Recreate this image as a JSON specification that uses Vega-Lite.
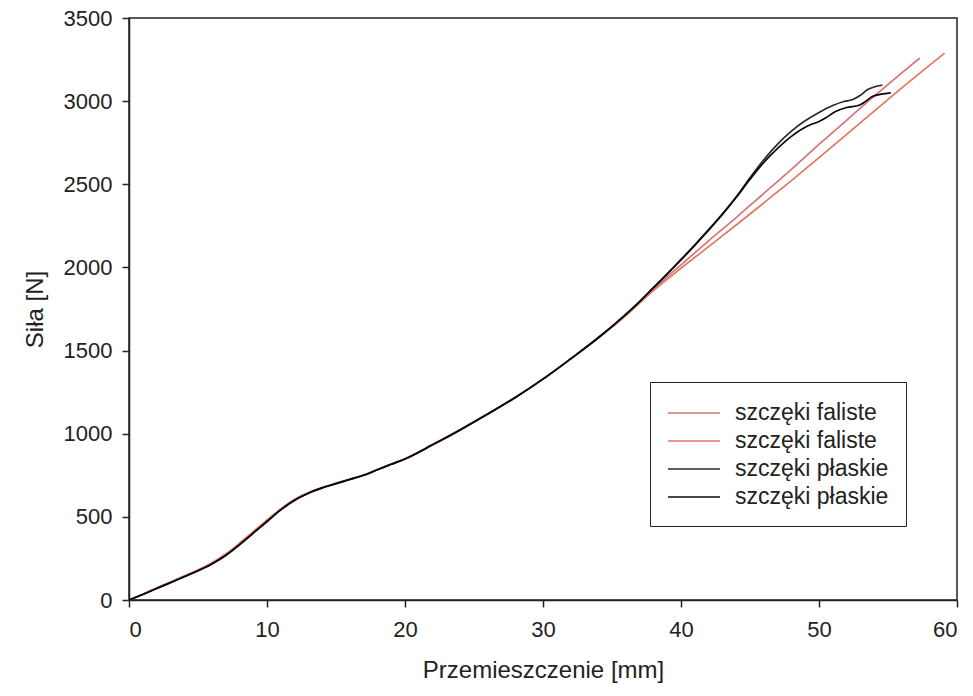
{
  "$schema": "https://vega.github.io/schema/vega-lite/v6.json",
  "width": 828,
  "height": 582,
  "autosize": "none",
  "padding": {"left": 129, "top": 18, "right": 16, "bottom": 96},
  "background": "white",
  "config": {
    "font": "Liberation Sans",
    "view": {"stroke": "#222", "strokeWidth": 1.5},
    "axis": {"labelColor": "#222", "titleColor": "#222", "domainColor": "#222", "tickColor": "#222", "grid": false, "labelFontSize": 22, "titleFontSize": 24, "titleFontWeight": "normal", "tickSize": 7, "domainWidth": 1.5, "tickWidth": 1.5, "format": "d"}
  },
  "data": {"values": [
    {"s":"a","x":0,"y":0},{"s":"a","x":1,"y":35},{"s":"a","x":2,"y":72},{"s":"a","x":3,"y":108},{"s":"a","x":4,"y":144},{"s":"a","x":5,"y":180},{"s":"a","x":6,"y":222},{"s":"a","x":7,"y":275},{"s":"a","x":8,"y":340},{"s":"a","x":9,"y":410},{"s":"a","x":10,"y":480},{"s":"a","x":11,"y":548},{"s":"a","x":12,"y":605},{"s":"a","x":13,"y":645},{"s":"a","x":14,"y":676},{"s":"a","x":15,"y":702},{"s":"a","x":16,"y":727},{"s":"a","x":17,"y":752},{"s":"a","x":18,"y":785},{"s":"a","x":19,"y":818},{"s":"a","x":20,"y":850},{"s":"a","x":22,"y":935},{"s":"a","x":24,"y":1025},{"s":"a","x":26,"y":1120},{"s":"a","x":28,"y":1220},{"s":"a","x":30,"y":1330},{"s":"a","x":32,"y":1450},{"s":"a","x":34,"y":1575},{"s":"a","x":36,"y":1712},
    {"s":"a","x":37,"y":1788},{"s":"a","x":38,"y":1868},{"s":"a","x":40,"y":2015},{"s":"a","x":42,"y":2160},{"s":"a","x":44,"y":2300},{"s":"a","x":46,"y":2445},{"s":"a","x":48,"y":2590},{"s":"a","x":50,"y":2740},{"s":"a","x":52,"y":2885},{"s":"a","x":54,"y":3030},{"s":"a","x":55,"y":3100},{"s":"a","x":56,"y":3170},{"s":"a","x":57.3,"y":3259},
    {"s":"b","x":0,"y":0},{"s":"b","x":1,"y":35},{"s":"b","x":2,"y":72},{"s":"b","x":3,"y":108},{"s":"b","x":4,"y":144},{"s":"b","x":5,"y":180},{"s":"b","x":6,"y":222},{"s":"b","x":7,"y":275},{"s":"b","x":8,"y":340},{"s":"b","x":9,"y":410},{"s":"b","x":10,"y":480},{"s":"b","x":11,"y":548},{"s":"b","x":12,"y":605},{"s":"b","x":13,"y":645},{"s":"b","x":14,"y":676},{"s":"b","x":15,"y":702},{"s":"b","x":16,"y":727},{"s":"b","x":17,"y":752},{"s":"b","x":18,"y":785},{"s":"b","x":19,"y":818},{"s":"b","x":20,"y":850},{"s":"b","x":22,"y":935},{"s":"b","x":24,"y":1025},{"s":"b","x":26,"y":1120},{"s":"b","x":28,"y":1220},{"s":"b","x":30,"y":1330},{"s":"b","x":32,"y":1450},{"s":"b","x":34,"y":1575},{"s":"b","x":36,"y":1710},
    {"s":"b","x":37,"y":1786},{"s":"b","x":38,"y":1860},{"s":"b","x":40,"y":1995},{"s":"b","x":42,"y":2125},{"s":"b","x":44,"y":2255},{"s":"b","x":46,"y":2388},{"s":"b","x":48,"y":2522},{"s":"b","x":50,"y":2660},{"s":"b","x":52,"y":2800},{"s":"b","x":54,"y":2940},{"s":"b","x":56,"y":3080},{"s":"b","x":58,"y":3215},{"s":"b","x":59.1,"y":3289},
    {"s":"c","x":0,"y":0},{"s":"c","x":1,"y":33},{"s":"c","x":2,"y":69},{"s":"c","x":3,"y":104},{"s":"c","x":4,"y":140},{"s":"c","x":5,"y":176},{"s":"c","x":6,"y":217},{"s":"c","x":7,"y":268},{"s":"c","x":8,"y":332},{"s":"c","x":9,"y":402},{"s":"c","x":10,"y":472},{"s":"c","x":11,"y":542},{"s":"c","x":12,"y":600},{"s":"c","x":13,"y":642},{"s":"c","x":14,"y":674},{"s":"c","x":15,"y":700},{"s":"c","x":16,"y":725},{"s":"c","x":17,"y":750},{"s":"c","x":18,"y":783},{"s":"c","x":19,"y":816},{"s":"c","x":20,"y":848},{"s":"c","x":22,"y":933},{"s":"c","x":24,"y":1023},{"s":"c","x":26,"y":1118},{"s":"c","x":28,"y":1218},{"s":"c","x":30,"y":1328},{"s":"c","x":32,"y":1450},{"s":"c","x":34,"y":1577},{"s":"c","x":36,"y":1718},
    {"s":"c","x":37,"y":1795},{"s":"c","x":38,"y":1878},{"s":"c","x":39,"y":1962},{"s":"c","x":40,"y":2048},{"s":"c","x":41,"y":2136},{"s":"c","x":42,"y":2227},{"s":"c","x":43,"y":2322},{"s":"c","x":44,"y":2425},{"s":"c","x":45,"y":2540},{"s":"c","x":46,"y":2648},{"s":"c","x":47,"y":2742},{"s":"c","x":48,"y":2820},{"s":"c","x":49,"y":2882},{"s":"c","x":50,"y":2932},{"s":"c","x":51,"y":2974},{"s":"c","x":51.8,"y":2998},{"s":"c","x":52.4,"y":3008},{"s":"c","x":53,"y":3035},{"s":"c","x":53.5,"y":3068},{"s":"c","x":54,"y":3085},{"s":"c","x":54.6,"y":3097},
    {"s":"d","x":0,"y":0},{"s":"d","x":1,"y":33},{"s":"d","x":2,"y":69},{"s":"d","x":3,"y":104},{"s":"d","x":4,"y":140},{"s":"d","x":5,"y":176},{"s":"d","x":6,"y":217},{"s":"d","x":7,"y":268},{"s":"d","x":8,"y":332},{"s":"d","x":9,"y":402},{"s":"d","x":10,"y":472},{"s":"d","x":11,"y":542},{"s":"d","x":12,"y":600},{"s":"d","x":13,"y":642},{"s":"d","x":14,"y":674},{"s":"d","x":15,"y":700},{"s":"d","x":16,"y":725},{"s":"d","x":17,"y":750},{"s":"d","x":18,"y":783},{"s":"d","x":19,"y":816},{"s":"d","x":20,"y":848},{"s":"d","x":22,"y":933},{"s":"d","x":24,"y":1023},{"s":"d","x":26,"y":1118},{"s":"d","x":28,"y":1218},{"s":"d","x":30,"y":1328},{"s":"d","x":32,"y":1450},{"s":"d","x":34,"y":1577},{"s":"d","x":36,"y":1718},
    {"s":"d","x":37,"y":1795},{"s":"d","x":38,"y":1878},{"s":"d","x":39,"y":1960},{"s":"d","x":40,"y":2045},{"s":"d","x":41,"y":2133},{"s":"d","x":42,"y":2224},{"s":"d","x":43,"y":2318},{"s":"d","x":44,"y":2420},{"s":"d","x":45,"y":2530},{"s":"d","x":46,"y":2632},{"s":"d","x":47,"y":2716},{"s":"d","x":48,"y":2788},{"s":"d","x":49,"y":2843},{"s":"d","x":49.5,"y":2862},{"s":"d","x":50,"y":2878},{"s":"d","x":50.5,"y":2900},{"s":"d","x":51.2,"y":2938},{"s":"d","x":52,"y":2962},{"s":"d","x":52.9,"y":2975},{"s":"d","x":53.4,"y":3000},{"s":"d","x":53.8,"y":3025},{"s":"d","x":54.5,"y":3042},{"s":"d","x":55.2,"y":3050}
  ]},
  "mark": {"type": "line", "strokeWidth": 1.7, "interpolate": "monotone"},
  "encoding": {
    "x": {"field": "x", "type": "quantitative", "scale": {"domain": [0, 60], "nice": false}, "axis": {"values": [0,10,20,30,40,50,60], "title": "Przemieszczenie [mm]", "labelPadding": 12, "titlePadding": 18}},
    "y": {"field": "y", "type": "quantitative", "scale": {"domain": [0, 3500], "nice": false}, "axis": {"values": [0,500,1000,1500,2000,2500,3000,3500], "title": "Siła [N]", "labelPadding": 10, "titlePadding": 16}},
    "color": {"field": "s", "type": "nominal", "scale": {"domain": ["a","b","c","d"], "range": ["#d8737a","#e4765e","#2a2a2a","#080808"]},
      "legend": {"orient": "none", "legendX": 521, "legendY": 364, "title": null, "strokeColor": "#222", "fillColor": "white", "padding": 17, "labelFontSize": 23, "labelColor": "#222", "symbolType": "M-1,0L3,0", "symbolSize": 676, "symbolStrokeWidth": 1.5, "rowPadding": 2, "labelOffset": 40, "labelExpr": "(datum.value == 'a' || datum.value == 'b') ? 'szczęki faliste' : 'szczęki płaskie'"}}
  }
}
